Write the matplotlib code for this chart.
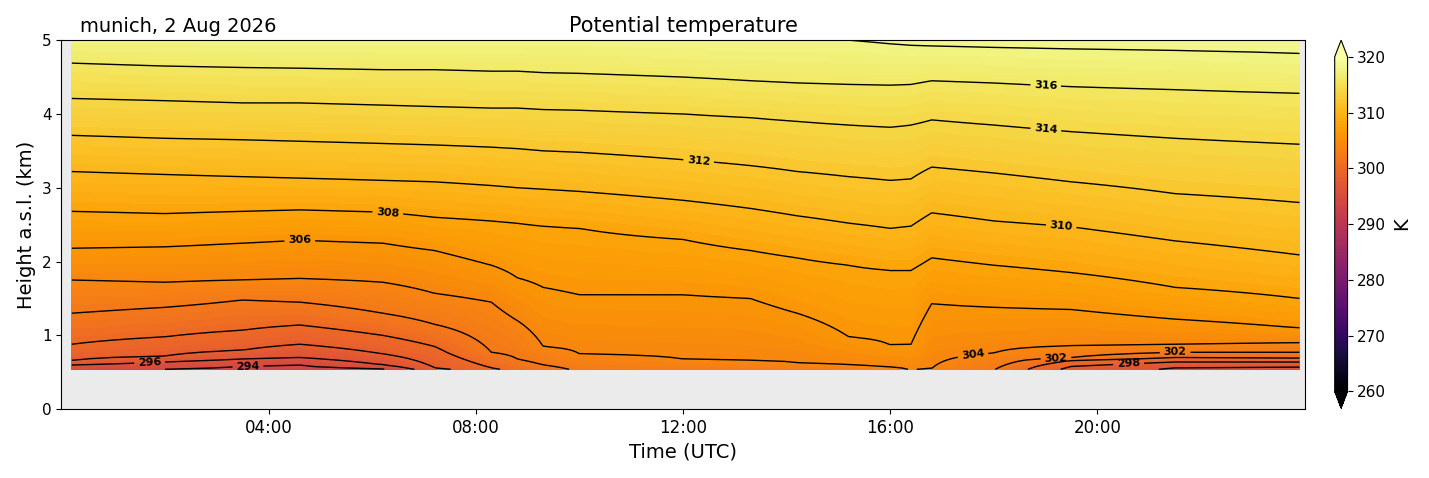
import numpy as np
import matplotlib.pyplot as plt

# isentrope heights (km) at a few times (h UTC)
hours = [0.2, 2, 3.5, 4.6, 6.2, 7.2, 8.3, 8.8, 9.3, 10, 12, 13.3, 14.2,
         15.2, 16.0, 16.4, 16.8, 18, 19.5, 21.5, 23.9]
levels = [294, 296, 298, 300, 302, 304, 306, 308, 310, 312, 314, 316, 318]
h294 = [0.50, 0.54, 0.58, 0.60, 0.55, 0.30, 0.30, 0.30, 0.30, 0.30, 0.30, 0.30, 0.30,
        0.30, 0.30, 0.30, 0.30, 0.30, 0.30, 0.40, 0.50]
h296 = [0.60, 0.64, 0.68, 0.70, 0.60, 0.50, 0.35, 0.35, 0.35, 0.35, 0.35, 0.35, 0.35,
        0.35, 0.35, 0.35, 0.35, 0.35, 0.46, 0.56, 0.57]
h298 = [0.66, 0.72, 0.80, 0.88, 0.75, 0.56, 0.44, 0.40, 0.40, 0.40, 0.40, 0.40, 0.40,
        0.40, 0.40, 0.40, 0.40, 0.44, 0.58, 0.64, 0.64]
h300 = [0.88, 0.98, 1.07, 1.14, 1.00, 0.85, 0.56, 0.47, 0.45, 0.45, 0.45, 0.45, 0.45,
        0.45, 0.45, 0.45, 0.45, 0.52, 0.66, 0.70, 0.69]
h302 = [1.30, 1.38, 1.48, 1.45, 1.30, 1.15, 0.77, 0.68, 0.60, 0.50, 0.48, 0.48, 0.48,
        0.48, 0.48, 0.48, 0.48, 0.53, 0.70, 0.77, 0.77]
h304 = [1.75, 1.72, 1.75, 1.77, 1.72, 1.57, 1.45, 1.20, 0.85, 0.75, 0.68, 0.66, 0.63,
        0.60, 0.57, 0.52, 0.55, 0.76, 0.86, 0.88, 0.90]
h306 = [2.18, 2.20, 2.25, 2.29, 2.25, 2.15, 1.95, 1.78, 1.65, 1.55, 1.55, 1.50, 1.30,
        0.98, 0.87, 0.88, 1.43, 1.38, 1.35, 1.22, 1.10]
h308 = [2.68, 2.65, 2.68, 2.70, 2.67, 2.60, 2.55, 2.52, 2.48, 2.45, 2.30, 2.15, 2.05,
        1.95, 1.88, 1.88, 2.05, 1.95, 1.85, 1.65, 1.50]
h310 = [3.22, 3.18, 3.15, 3.13, 3.10, 3.08, 3.03, 3.00, 2.98, 2.95, 2.83, 2.72, 2.62,
        2.52, 2.45, 2.48, 2.66, 2.55, 2.47, 2.28, 2.09]
h312 = [3.71, 3.67, 3.65, 3.63, 3.60, 3.58, 3.55, 3.53, 3.50, 3.48, 3.38, 3.30, 3.22,
        3.15, 3.10, 3.12, 3.28, 3.20, 3.08, 2.92, 2.80]
h314 = [4.21, 4.18, 4.15, 4.15, 4.12, 4.10, 4.08, 4.08, 4.06, 4.05, 4.00, 3.95, 3.90,
        3.85, 3.82, 3.85, 3.92, 3.85, 3.76, 3.67, 3.59]
h316 = [4.69, 4.65, 4.63, 4.62, 4.60, 4.60, 4.58, 4.58, 4.56, 4.55, 4.50, 4.45, 4.42,
        4.40, 4.39, 4.40, 4.45, 4.42, 4.37, 4.33, 4.28]
h318 = [5.05, 5.05, 5.05, 5.05, 5.05, 5.05, 5.05, 5.05, 5.05, 5.05, 5.02, 5.00, 5.00,
        5.00, 4.95, 4.93, 4.92, 4.90, 4.88, 4.86, 4.82]
heights = np.array([h294, h296, h298, h300, h302, h304, h306, h308, h310,
                    h312, h314, h316, h318])

z = np.linspace(0.54, 5.0, 250)
theta = np.empty((z.size, len(hours)))
for j in range(len(hours)):
    hz = np.concatenate([[0.0], heights[:, j], [5.6]])
    th = np.concatenate([[288], levels, [320]])
    theta[:, j] = np.interp(z, hz, th)

fig = plt.figure(figsize=(14.29, 4.78), dpi=100)
ax = fig.add_axes([0.043, 0.144, 0.870, 0.772])
ax.set_facecolor('#ebebeb')
cf = ax.contourf(hours, z, theta, levels=np.arange(260, 320.01, 0.5),
                 cmap='inferno', vmin=260, vmax=320, extend='both')
cs = ax.contour(hours, z, theta, levels=levels, colors='k', linewidths=1)
ax.clabel(cs, fmt='%d', fontsize=8,
          manual=[(1.7, 0.66), (3.6, 0.62), (4.6, 2.29), (6.3, 2.67),
                  (12.3, 3.36), (19.3, 2.48), (19.0, 3.77), (19.0, 4.37),
                  (17.6, 0.72), (19.2, 0.67), (20.6, 0.62), (21.5, 0.77)])
for t in cs.labelTexts:
    t.set_fontweight('bold')

ax.set_xlim(0, 24)
ax.set_ylim(0, 5)
ax.set_xticks([4, 8, 12, 16, 20])
ax.set_xticklabels(['04:00', '08:00', '12:00', '16:00', '20:00'], fontsize=12)
ax.tick_params(axis='y', labelsize=11)
ax.set_xlabel('Time (UTC)', fontsize=14)
ax.set_ylabel('Height a.s.l. (km)', fontsize=14)
ax.set_title('Potential temperature', fontsize=15)
ax.text(0.015, 1.01, 'munich, 2 Aug 2026', transform=ax.transAxes,
        fontsize=14, va='bottom')

cax = fig.add_axes([0.934, 0.146, 0.009, 0.77])
cb = fig.colorbar(cf, cax=cax, ticks=np.arange(260, 321, 10))
cb.ax.tick_params(labelsize=11)
cb.set_label('K', fontsize=14)

fig.savefig('out.png', dpi=100)
